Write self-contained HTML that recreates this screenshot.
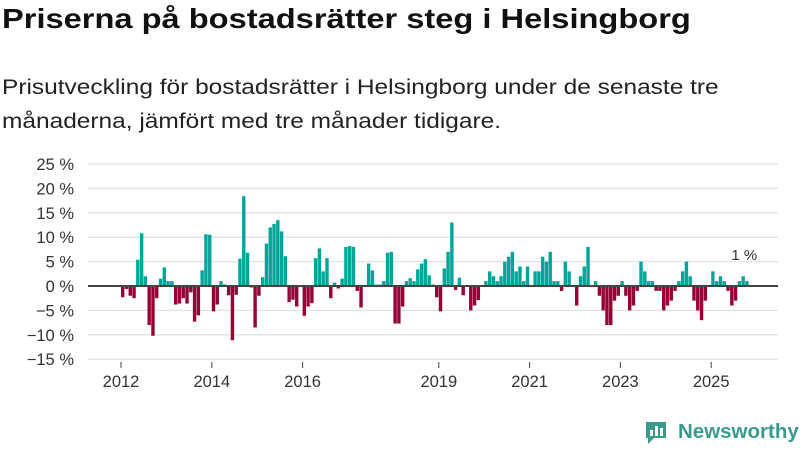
<!DOCTYPE html>
<html><head><meta charset="utf-8">
<style>
body{margin:0;width:800px;height:450px;background:#fff;font-family:"Liberation Sans",sans-serif;overflow:hidden;position:relative}
h1{position:absolute;left:2px;top:3px;margin:0;font-size:28px;font-weight:bold;color:#111;transform:scaleX(1.165);transform-origin:left top;white-space:nowrap}
p.sub{position:absolute;left:2px;top:71px;margin:0;font-size:21px;line-height:34px;color:#222;width:625px;transform:scaleX(1.165);transform-origin:left top}
svg{position:absolute;left:0;top:0}
.logo{position:absolute;left:646px;top:420px;font-size:20.5px;font-weight:bold;color:#3a9a8e;white-space:nowrap}
</style></head><body>
<h1>Priserna på bostadsrätter steg i Helsingborg</h1>
<p class="sub">Prisutveckling för bostadsrätter i Helsingborg under de senaste tre månaderna, jämfört med tre månader tidigare.</p>
<svg id="chart" width="800" height="450"></svg>
<div class="logo"><svg width="24" height="26" style="position:absolute;left:-2px;top:0" viewBox="0 0 24 26"><path d="M2 2h20v16H10l-6 6v-6H2z" fill="#3a9a8e"/><rect x="6" y="10" width="3" height="6" fill="#fff"/><rect x="11" y="6" width="3" height="10" fill="#fff"/><rect x="16" y="8" width="3" height="8" fill="#fff"/></svg><span style="margin-left:32px">Newsworthy</span></div>
<script>
const values=[-2.3,-0.6,-2,-2.5,5.4,10.8,2,-8,-10.2,-2.5,1.5,3.8,1,1,-3.8,-3.6,-2.5,-3.6,-1.3,-7.3,-6,3.2,10.6,10.5,-5.2,-3.8,1,0.3,-1.9,-11.1,-1.8,5.6,18.4,6.8,-0.3,-8.5,-2,1.8,8.7,12,12.7,13.5,11.2,6.1,-3.3,-2.8,-4.2,0,-6.1,-4.2,-3.5,5.7,7.7,3,5.7,
-2.5,0.7,-0.5,1.5,8,8.2,8,-1,-4.4,0,4.6,3.2,0.3,0.3,1,6.8,7,-7.7,-7.7,-4.2,1,1.6,1,3.4,4.6,5.5,2.2,0.3,-2.3,-5.2,3.6,7,13,-0.8,1.7,-1.9,0,-5,-4,-2.9,0,1,3,2,1,2,5,6,7,3,4,1,4,0,3,3,6,
5,7,1,1,-1,5,3,0,-4,2,4,8,0,1,-2,-5,-8,-8,-3,-2,1,-2,-5,-4,-1,5,3,1,1,-1,-1,-5,-4,-3,-1,1,3,5,2,-3,-5,-7,-3,0,3,1,2,1,-1,-4,-3,1,2,1];
const yTicks=[25,20,15,10,5,0,-5,-10,-15];
const xTickYears=[2012,2014,2016,2019,2021,2023,2025];
const startYear=2012;
const lastLabel="1 %";
const NS="http://www.w3.org/2000/svg";
const svg=document.getElementById('chart');
const y=v=>286-v*4.88;
const x=i=>121+i*45.4/12;
function mk(t,a){const e=document.createElementNS(NS,t);for(const k in a)e.setAttribute(k,a[k]);svg.appendChild(e);return e;}
yTicks.forEach(t=>{
  const l=mk('line',{x1:88,x2:778,y1:y(t),y2:y(t),stroke:'#e2e2e2','stroke-width':1.3});
  
  
  const tx=mk('text',{x:74,y:y(t)+6,'text-anchor':'end','font-size':16.5,fill:'#333','font-family':'Liberation Sans, sans-serif'});
  tx.textContent=(t<0?'\u2212'+(-t):t)+' %';
  
  
});
values.forEach((v,i)=>{
  const r=mk('rect',{x:x(i),width:3.4,y:Math.min(y(v),y(0)),height:Math.abs(y(v)-y(0)),fill:v>=0?'#00a59a':'#960036'});
  
  
});
const z=mk('line',{x1:88,x2:778,y1:y(0),y2:y(0),stroke:'#444','stroke-width':2});


xTickYears.forEach(yr=>{
  const px=x((yr-startYear)*12);
  const tk=mk('line',{x1:px,x2:px,y1:362,y2:368,stroke:'#444','stroke-width':1});
  
  
  const tx=mk('text',{x:px,y:387,'text-anchor':'middle','font-size':16.5,fill:'#333','font-family':'Liberation Sans, sans-serif'});
  tx.textContent=yr;
  
  
});
const li=values.length-1;
const lb=mk('text',{x:x(li)-1,y:y(values[li])-21,'text-anchor':'middle','font-size':15,fill:'#333','font-family':'Liberation Sans, sans-serif',stroke:'#fff','stroke-width':3,'paint-order':'stroke'});
lb.textContent=lastLabel;


</script>
</body></html>
